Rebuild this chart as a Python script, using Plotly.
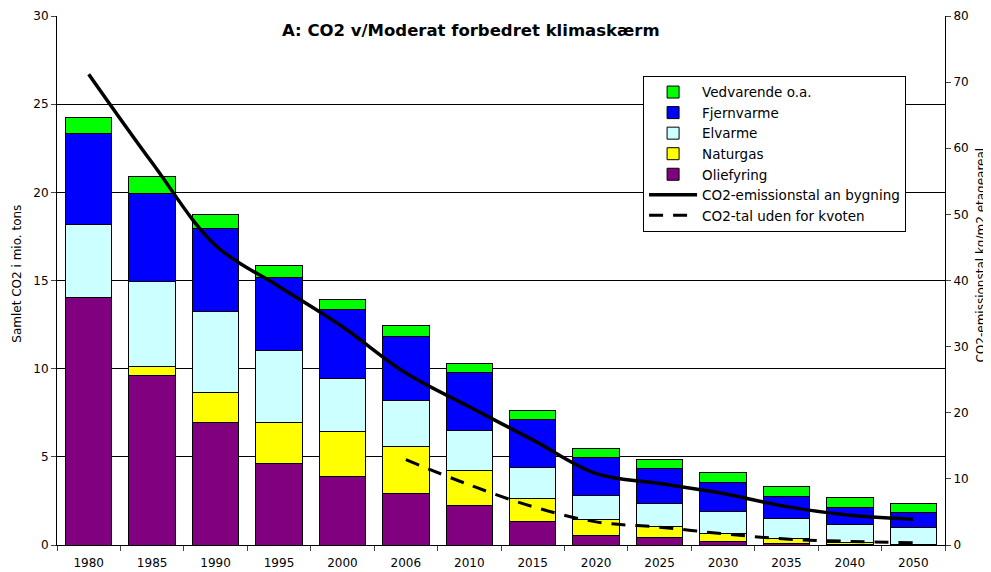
import plotly.graph_objects as go

years = ["1980", "1985", "1990", "1995", "2000", "2006", "2010", "2015",
         "2020", "2025", "2030", "2035", "2040", "2050"]

oliefyring = [14.05, 9.62, 6.92, 4.63, 3.91, 2.93, 2.25, 1.32, 0.56, 0.41, 0.19, 0.08, 0.03, 0.0]
naturgas   = [0.0, 0.49, 1.72, 2.33, 2.50, 2.64, 2.00, 1.34, 0.91, 0.66, 0.46, 0.27, 0.12, 0.02]
elvarme    = [4.15, 4.86, 4.63, 4.08, 3.04, 2.65, 2.25, 1.74, 1.31, 1.29, 1.23, 1.13, 1.02, 0.98]
fjernvarme = [5.15, 4.94, 4.69, 4.14, 3.92, 3.63, 3.27, 2.73, 2.17, 1.97, 1.66, 1.29, 0.98, 0.83]
vedvarende = [0.90, 0.98, 0.77, 0.68, 0.56, 0.57, 0.53, 0.52, 0.55, 0.53, 0.57, 0.54, 0.53, 0.53]

co2_bygning = [71.2, 57.8, 45.3, 39.1, 33.0, 26.0, 20.9, 15.9, 10.8, 9.3, 7.8, 5.8, 4.5, 3.9]
co2_kvote_years = ["2006", "2010", "2015", "2020", "2025", "2030", "2035", "2040", "2050"]
co2_kvote = [12.9, 9.1, 5.8, 3.5, 2.7, 1.7, 0.9, 0.55, 0.35]

title_text = "A: CO2 v/Moderat forbedret klimaskærm"
y_title = "Samlet CO2 i mio. tons"
y2_title = "CO2-emissionstal kg/m2 etageareal"

FONT = "DejaVu Sans"

fig = go.Figure()

bars = [
    ("Oliefyring", oliefyring, "#800080", 5),
    ("Naturgas", naturgas, "#FFFF00", 4),
    ("Elvarme", elvarme, "#CCFFFF", 3),
    ("Fjernvarme", fjernvarme, "#0000FF", 2),
    ("Vedvarende o.a.", vedvarende, "#00FF00", 1),
]
for name, vals, col, rank in bars:
    fig.add_trace(go.Bar(
        x=years, y=vals, name=name, marker_color=col,
        marker_line_color="black", marker_line_width=1,
        legendrank=rank,
    ))

fig.add_trace(go.Scatter(
    x=years, y=co2_bygning, name="CO2-emissionstal an bygning",
    mode="lines", line=dict(color="black", width=3.5, shape="spline"),
    yaxis="y2", legendrank=6,
))
fig.add_trace(go.Scatter(
    x=co2_kvote_years, y=co2_kvote, name="CO2-tal uden for kvoten",
    mode="lines", line=dict(color="black", width=3, dash="14px,10px", shape="spline"),
    yaxis="y2", legendrank=7,
))

fig.update_layout(
    width=983, height=564,
    barmode="stack", bargap=0.27,
    paper_bgcolor="white", plot_bgcolor="white",
    font=dict(family=FONT, size=12, color="black"),
    margin=dict(l=49, r=46, t=8, b=27, autoexpand=False),
    xaxis=dict(type="category", tickson="boundaries", ticks="outside", ticklen=5,
               showline=True, linecolor="black", linewidth=1, showgrid=False,
               tickfont=dict(size=12), automargin=False, ticklabelstandoff=7),
    yaxis=dict(range=[0, 30], dtick=5, showgrid=True, gridcolor="black", gridwidth=1,
               ticks="outside", ticklen=5, showline=True, linecolor="black", linewidth=1,
               tickfont=dict(size=12), zeroline=False, automargin=False),
    yaxis2=dict(range=[0, 80], dtick=10, overlaying="y", side="right", showgrid=False,
                ticks="outside", ticklen=5, showline=True, linecolor="black", linewidth=1,
                tickfont=dict(size=12), zeroline=False, automargin=False),
    legend=dict(x=0.66, y=0.887, xanchor="left", yanchor="top",
                bgcolor="white", bordercolor="black", borderwidth=1,
                font=dict(family=FONT, size=13.5), tracegroupgap=0,
                traceorder="normal", itemwidth=48),
    showlegend=True,
    annotations=[
        dict(text="<b>" + title_text + "</b>", xref="paper", yref="paper",
             x=0.466, y=0.9735, xanchor="center", yanchor="middle", showarrow=False,
             font=dict(family=FONT, size=16.5, color="black")),
        dict(text=y_title, xref="paper", yref="paper", x=-0.045, y=0.513,
             xanchor="center", yanchor="middle", textangle=-90, showarrow=False,
             font=dict(family=FONT, size=12)),
        dict(text=y2_title, xref="paper", yref="paper", x=1.0405, y=0.549,
             xanchor="center", yanchor="middle", textangle=-90, showarrow=False,
             font=dict(family=FONT, size=12)),
    ],
)

fig.write_html("out.html")
